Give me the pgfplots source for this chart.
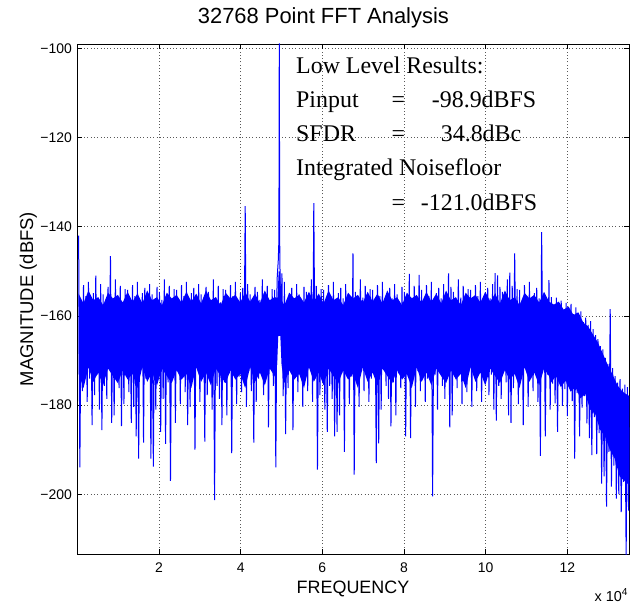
\documentclass[border=0pt]{standalone}
\usepackage{pgfplots}
\pgfplotsset{compat=1.18}
\usepackage{fontspec}
\setmainfont{Liberation Serif}
\newfontfamily\arial{Liberation Sans}
\definecolor{mblue}{rgb}{0,0,1}
\begin{document}
\begin{tikzpicture}
\begin{axis}[
  scale only axis, width=552bp, height=510bp,
  xmin=0, xmax=13.52, ymin=-213.4, ymax=-99.04,
  xtick={2,4,6,8,10,12}, xticklabels={2,4,6,8,10,12},
  ytick={-200,-180,-160,-140,-120,-100},
  yticklabels={−200,−180,−160,−140,−120,−100},
  tick align=inside, xtick pos=both, ytick pos=both,
  major tick length=5bp,
  tick style={black, line width=0.6bp},
  axis line style={black, line width=0.9bp},
  grid=major,
  major grid style={black!65, line width=0.6bp, dash pattern=on 0.8bp off 2.5bp},
  tick label style={font=\arial\fontsize{14}{16}\selectfont, inner sep=0pt},
  xticklabel style={yshift=-9bp},
  yticklabel style={xshift=-5.3bp},
]
% dense core of the noise floor, where the trace covers everything
\addplot[fill=mblue, draw=none] coordinates {
(0.03,-155.0) (0.15,-157.2) (0.27,-154.3) (0.39,-156.5) (0.51,-155.8) (0.63,-157.6) (0.75,-154.8) (0.87,-156.1) (0.99,-155.3) (1.11,-157.0)
(1.23,-154.6) (1.35,-156.8) (1.47,-155.0) (1.59,-157.2) (1.71,-154.3) (1.83,-156.5) (1.95,-155.8) (2.07,-157.6) (2.19,-154.8) (2.31,-156.1)
(2.43,-155.3) (2.55,-157.0) (2.67,-154.6) (2.79,-156.8) (2.91,-155.0) (3.03,-157.2) (3.15,-154.3) (3.27,-156.5) (3.39,-155.8) (3.51,-157.6)
(3.63,-154.8) (3.75,-156.1) (3.87,-155.3) (3.99,-157.0) (4.11,-154.6) (4.23,-156.8) (4.35,-155.0) (4.47,-157.2) (4.59,-154.3) (4.71,-156.5)
(4.83,-155.8) (4.90,-156.0) (4.93,-150.0) (4.96,-150.0) (5.00,-156.5)
(5.07,-157.6) (5.19,-154.8) (5.31,-156.1) (5.43,-155.3) (5.55,-157.0) (5.67,-154.6) (5.79,-156.8) (5.91,-155.0) (6.03,-157.2) (6.15,-154.3)
(6.27,-156.5) (6.39,-155.8) (6.51,-157.6) (6.63,-154.8) (6.75,-156.1) (6.87,-155.3) (6.99,-157.0) (7.11,-154.6) (7.23,-156.8) (7.35,-155.0)
(7.47,-157.2) (7.59,-154.3) (7.71,-156.5) (7.83,-155.8) (7.95,-157.6) (8.07,-154.8) (8.19,-156.1) (8.31,-155.3) (8.43,-157.0) (8.55,-154.6)
(8.67,-156.8) (8.79,-155.0) (8.91,-157.2) (9.03,-154.3) (9.15,-156.5) (9.27,-155.8) (9.39,-157.6) (9.51,-154.8) (9.63,-156.1) (9.75,-155.3)
(9.87,-157.0) (9.99,-154.6) (10.11,-156.8) (10.23,-155.0) (10.35,-157.2) (10.47,-154.3) (10.59,-156.5) (10.71,-155.8) (10.83,-157.6) (10.95,-154.8)
(11.07,-156.1) (11.19,-155.3) (11.31,-157.0) (11.43,-154.6) (11.55,-156.8)
(11.67,-157.5) (11.79,-156.8) (11.91,-158.6) (12.03,-157.9) (12.15,-159.8) (12.27,-159.2) (12.39,-161.5) (12.51,-162.4) (12.63,-164.2) (12.75,-166.0)
(12.87,-168.5) (12.99,-171.0) (13.11,-173.2) (13.23,-175.6) (13.35,-177.0) (13.52,-178.0)
(13.52,-198.0) (13.40,-197.0) (13.28,-196.0) (13.16,-192.0) (13.04,-190.0) (12.92,-187.0) (12.80,-185.5) (12.68,-182.0) (12.56,-181.0) (12.44,-177.5)
(12.32,-178.5) (12.20,-176.0) (12.08,-177.0) (11.96,-174.5) (11.84,-176.0) (11.72,-173.5) (11.60,-175.0)
(11.55,-173.5) (11.43,-171.8) (11.31,-175.6) (11.19,-172.7) (11.07,-174.8) (10.95,-171.5) (10.83,-176.2) (10.71,-173.0) (10.59,-174.3) (10.47,-172.2)
(10.35,-175.1) (10.23,-173.5) (10.11,-171.8) (9.99,-175.6) (9.87,-172.7) (9.75,-174.8) (9.63,-171.5) (9.51,-176.2) (9.39,-173.0) (9.27,-174.3)
(9.15,-172.2) (9.03,-175.1) (8.91,-173.5) (8.79,-171.8) (8.67,-175.6) (8.55,-172.7) (8.43,-174.8) (8.31,-171.5) (8.19,-176.2) (8.07,-173.0)
(7.95,-174.3) (7.83,-172.2) (7.71,-175.1) (7.59,-173.5) (7.47,-171.8) (7.35,-175.6) (7.23,-172.7) (7.11,-174.8) (6.99,-171.5) (6.87,-176.2)
(6.75,-173.0) (6.63,-174.3) (6.51,-172.2) (6.39,-175.1) (6.27,-173.5) (6.15,-171.8) (6.03,-175.6) (5.91,-172.7) (5.79,-174.8) (5.67,-171.5)
(5.55,-176.2) (5.43,-173.0) (5.31,-174.3) (5.19,-172.2) (5.07,-175.1)
(5.00,-171.0) (4.97,-164.5) (4.92,-164.5) (4.89,-171.0)
(4.83,-173.5) (4.71,-171.8) (4.59,-175.6) (4.47,-172.7) (4.35,-174.8) (4.23,-171.5) (4.11,-176.2) (3.99,-173.0) (3.87,-174.3) (3.75,-172.2)
(3.63,-175.1) (3.51,-173.5) (3.39,-171.8) (3.27,-175.6) (3.15,-172.7) (3.03,-174.8) (2.91,-171.5) (2.79,-176.2) (2.67,-173.0) (2.55,-174.3)
(2.43,-172.2) (2.31,-175.1) (2.19,-173.5) (2.07,-171.8) (1.95,-175.6) (1.83,-172.7) (1.71,-174.8) (1.59,-171.5) (1.47,-176.2) (1.35,-173.0)
(1.23,-174.3) (1.11,-172.2) (0.99,-175.1) (0.87,-173.5) (0.75,-171.8) (0.63,-175.6) (0.51,-172.7) (0.39,-174.8) (0.27,-171.5) (0.15,-176.2)
(0.03,-173.0)
} -- cycle;
\addplot[mblue, line width=1.0bp, line join=bevel, no markers] coordinates {
(0.03,-142.0) (0.06,-194.0) (0.09,-156.8) (0.12,-176.9) (0.15,-153.1) (0.18,-170.8) (0.21,-155.6) (0.24,-179.3) (0.27,-152.4) (0.30,-174.1)
(0.33,-157.3) (0.36,-184.5) (0.39,-154.9) (0.42,-177.8) (0.45,-151.0) (0.48,-173.2) (0.51,-156.1) (0.54,-181.0) (0.57,-152.9) (0.60,-185.6)
(0.63,-155.2) (0.66,-175.7) (0.69,-157.8) (0.72,-178.6) (0.75,-153.5) (0.78,-170.2) (0.81,-146.6) (0.84,-184.0) (0.87,-156.4) (0.90,-182.3)
(0.93,-151.8) (0.96,-172.9) (0.99,-155.9) (1.02,-176.2) (1.05,-153.3) (1.08,-184.7) (1.11,-157.0) (1.14,-179.8) (1.17,-154.0) (1.20,-173.6)
(1.23,-154.2) (1.26,-177.1) (1.29,-156.8) (1.32,-184.0) (1.35,-153.1) (1.38,-180.4) (1.41,-155.6) (1.44,-187.0) (1.47,-152.4) (1.50,-192.0)
(1.53,-157.3) (1.56,-170.8) (1.59,-154.9) (1.62,-188.4) (1.65,-153.7) (1.68,-174.1) (1.71,-156.1) (1.74,-169.6) (1.77,-152.9) (1.80,-192.0)
(1.83,-155.2) (1.86,-193.8) (1.89,-157.8) (1.92,-181.0) (1.95,-153.5) (1.98,-171.5) (2.01,-154.6) (2.04,-186.0) (2.07,-156.4) (2.10,-178.6)
(2.13,-151.8) (2.16,-188.7) (2.19,-155.9) (2.22,-174.9) (2.25,-153.3) (2.28,-197.0) (2.31,-157.0) (2.34,-172.9) (2.37,-154.0) (2.40,-184.0)
(2.43,-154.2) (2.46,-169.9) (2.49,-156.8) (2.52,-179.8) (2.55,-153.1) (2.58,-173.6) (2.61,-155.6) (2.64,-177.1) (2.67,-152.4) (2.70,-184.5)
(2.73,-157.3) (2.76,-180.4) (2.79,-154.9) (2.82,-172.4) (2.85,-153.7) (2.88,-190.0) (2.91,-156.1) (2.94,-170.8) (2.97,-152.9) (3.00,-179.3)
(3.03,-155.2) (3.06,-174.1) (3.09,-157.8) (3.12,-188.2) (3.15,-153.5) (3.18,-177.8) (3.21,-154.6) (3.24,-173.2) (3.27,-156.4) (3.30,-181.0)
(3.33,-151.8) (3.36,-201.3) (3.39,-155.9) (3.42,-175.7) (3.45,-153.3) (3.48,-178.6) (3.51,-157.0) (3.54,-184.5) (3.57,-154.0) (3.60,-174.9)
(3.63,-154.2) (3.66,-182.3) (3.69,-156.8) (3.72,-172.9) (3.75,-153.1) (3.78,-190.8) (3.81,-155.6) (3.84,-169.9) (3.87,-152.4) (3.90,-179.8)
(3.93,-157.3) (3.96,-173.6) (3.99,-154.9) (4.02,-177.1) (4.05,-153.7) (4.08,-171.1) (4.11,-135.4) (4.14,-180.4) (4.17,-152.9) (4.20,-172.4)
(4.23,-155.2) (4.26,-176.9) (4.29,-157.8) (4.32,-188.4) (4.35,-153.5) (4.38,-179.3) (4.41,-154.6) (4.44,-174.1) (4.47,-156.4) (4.50,-169.6)
(4.53,-151.8) (4.56,-177.8) (4.59,-155.9) (4.62,-173.2) (4.65,-153.3) (4.68,-185.0) (4.71,-157.0) (4.74,-171.5) (4.77,-154.0) (4.80,-175.7)
(4.83,-154.2) (4.86,-194.0) (4.89,-152.0) (4.92,-147.5) (4.935,-143.2) (4.945,-98.9) (4.955,-143.5) (4.98,-164.5) (5.01,-150.5) (5.04,-178.0)
(5.07,-152.4) (5.10,-186.5) (5.13,-157.3) (5.16,-176.2) (5.19,-154.9) (5.22,-169.9) (5.25,-153.7) (5.28,-185.6) (5.31,-156.1) (5.34,-173.6)
(5.37,-152.9) (5.40,-177.1) (5.43,-155.2) (5.46,-171.1) (5.49,-157.8) (5.52,-180.4) (5.55,-153.5) (5.58,-172.4) (5.61,-154.6) (5.64,-176.9)
(5.67,-156.4) (5.70,-170.8) (5.73,-151.8) (5.76,-179.3) (5.79,-134.7) (5.82,-174.1) (5.85,-153.3) (5.88,-194.5) (5.91,-157.0) (5.94,-177.8)
(5.97,-154.0) (6.00,-173.2) (6.03,-154.2) (6.06,-181.0) (6.09,-156.8) (6.12,-186.0) (6.15,-153.1) (6.18,-175.7) (6.21,-155.6) (6.24,-178.6)
(6.27,-152.4) (6.30,-187.0) (6.33,-157.3) (6.36,-186.0) (6.39,-154.9) (6.42,-182.3) (6.45,-153.7) (6.48,-172.9) (6.51,-156.1) (6.54,-190.5)
(6.57,-152.9) (6.60,-169.9) (6.63,-155.2) (6.66,-179.8) (6.69,-157.8) (6.72,-173.6) (6.75,-146.0) (6.78,-195.6) (6.81,-154.6) (6.84,-171.1)
(6.87,-156.4) (6.90,-180.4) (6.93,-151.8) (6.96,-172.4) (6.99,-155.9) (7.02,-176.9) (7.05,-153.3) (7.08,-170.8) (7.11,-157.0) (7.14,-179.3)
(7.17,-154.0) (7.20,-174.1) (7.23,-154.2) (7.26,-169.6) (7.29,-156.8) (7.32,-193.0) (7.35,-153.1) (7.38,-188.6) (7.41,-155.6) (7.44,-181.0)
(7.47,-152.4) (7.50,-171.5) (7.53,-157.3) (7.56,-175.7) (7.59,-154.9) (7.62,-178.6) (7.65,-153.7) (7.68,-184.8) (7.71,-156.1) (7.74,-174.9)
(7.77,-152.9) (7.80,-182.3) (7.83,-155.2) (7.86,-172.9) (7.89,-157.8) (7.92,-176.2) (7.95,-153.5) (7.98,-169.9) (8.01,-154.6) (8.04,-187.0)
(8.07,-156.4) (8.10,-173.6) (8.13,-150.6) (8.16,-187.4) (8.19,-155.9) (8.22,-171.1) (8.25,-153.3) (8.28,-180.4) (8.31,-157.0) (8.34,-172.4)
(8.37,-150.8) (8.40,-176.9) (8.43,-154.2) (8.46,-170.8) (8.49,-156.8) (8.52,-179.3) (8.55,-153.1) (8.58,-174.1) (8.61,-155.6) (8.64,-169.6)
(8.67,-152.4) (8.70,-200.5) (8.73,-157.3) (8.76,-173.2) (8.79,-154.9) (8.82,-181.0) (8.85,-153.7) (8.88,-171.5) (8.91,-156.1) (8.94,-175.7)
(8.97,-152.9) (9.00,-178.6) (9.03,-155.2) (9.06,-170.2) (9.09,-150.5) (9.12,-185.0) (9.15,-153.5) (9.18,-182.3) (9.21,-154.6) (9.24,-172.9)
(9.27,-156.4) (9.30,-176.2) (9.33,-151.8) (9.36,-169.9) (9.39,-155.9) (9.42,-179.8) (9.45,-153.3) (9.48,-173.6) (9.51,-157.0) (9.54,-177.1)
(9.57,-154.0) (9.60,-171.1) (9.63,-154.2) (9.66,-180.4) (9.69,-156.8) (9.72,-172.4) (9.75,-153.1) (9.78,-176.9) (9.81,-155.6) (9.84,-170.8)
(9.87,-152.4) (9.90,-179.3) (9.93,-157.3) (9.96,-174.1) (9.99,-154.9) (10.02,-169.6) (10.05,-153.7) (10.08,-177.8) (10.11,-156.1) (10.14,-173.2)
(10.17,-152.9) (10.20,-181.0) (10.23,-150.4) (10.26,-183.5) (10.29,-150.9) (10.32,-175.7) (10.35,-153.5) (10.38,-178.6) (10.41,-154.6) (10.44,-170.2)
(10.47,-156.4) (10.50,-174.9) (10.53,-151.8) (10.56,-182.3) (10.59,-150.3) (10.62,-184.0) (10.65,-153.3) (10.68,-176.2) (10.71,-146.0) (10.74,-169.9)
(10.77,-154.0) (10.80,-179.8) (10.83,-154.2) (10.86,-173.6) (10.89,-156.8) (10.92,-184.5) (10.95,-153.1) (10.98,-171.1) (11.01,-155.6) (11.04,-180.4)
(11.07,-152.4) (11.10,-172.4) (11.13,-157.3) (11.16,-176.9) (11.19,-154.9) (11.22,-170.8) (11.25,-153.7) (11.28,-179.3) (11.31,-156.1) (11.34,-191.4)
(11.37,-141.2) (11.40,-169.6) (11.43,-155.2) (11.46,-187.0) (11.49,-157.8) (11.52,-173.2) (11.55,-152.0) (11.58,-181.0)
(11.61,-155.8) (11.64,-175.2) (11.67,-157.4) (11.70,-179.6) (11.73,-155.9) (11.76,-186.0) (11.79,-158.2) (11.82,-173.5) (11.85,-156.6) (11.88,-180.2)
(11.91,-159.0) (11.94,-176.4) (11.97,-157.1) (12.00,-182.5) (12.03,-158.6) (12.06,-174.8) (12.09,-157.3) (12.12,-179.1) (12.15,-159.6) (12.18,-192.0)
(12.21,-158.1) (12.24,-177.3) (12.27,-160.2) (12.30,-187.0) (12.33,-159.0) (12.36,-180.6) (12.39,-161.4) (12.42,-178.0) (12.45,-160.4) (12.48,-184.1)
(12.51,-162.0) (12.54,-187.4) (12.57,-161.2) (12.60,-191.2) (12.63,-163.0) (12.66,-182.7) (12.69,-164.3) (12.72,-191.0) (12.75,-165.2) (12.78,-186.3)
(12.81,-166.8) (12.84,-197.6) (12.87,-167.5) (12.90,-196.0) (12.93,-169.4) (12.96,-202.8) (12.99,-170.8) (13.02,-190.5) (13.05,-158.5) (13.08,-198.3)
(13.11,-171.7) (13.14,-193.6) (13.17,-173.5) (13.20,-201.0) (13.23,-175.0) (13.26,-200.0) (13.29,-174.2) (13.32,-204.0) (13.35,-176.3) (13.38,-197.2)
(13.41,-175.4) (13.44,-214.0) (13.47,-176.0) (13.50,-203.7) (13.52,-185.0)
};
\end{axis}
% titles and labels, placed in bp from the lower-left corner of the axis box
\node[anchor=base, inner sep=0pt, font=\arial\fontsize{22}{26}\selectfont] at (246bp,530.5bp) {32768 Point FFT Analysis};
\node[anchor=base, inner sep=0pt, font=\arial\fontsize{18}{22}\selectfont] at (275.6bp,-39bp) {FREQUENCY};
\node[anchor=base, rotate=90, inner sep=0pt, font=\arial\fontsize{18.5}{22}\selectfont] at (-44.2bp,255bp) {MAGNITUDE (dBFS)};
\node[anchor=base west, inner sep=0pt, font=\arial\fontsize{14.5}{16}\selectfont] at (517bp,-47bp) {x 10\textsuperscript{4}};
% results text
\begin{scope}[every node/.style={inner sep=0pt, font=\fontsize{24}{28}\selectfont}]
\node[anchor=base west] at (218.6bp,480.7bp) {Low Level Results:};
\node[anchor=base west] at (218.6bp,446.5bp) {Pinput};
\node[anchor=base] at (320.9bp,446.5bp) {=};
\node[anchor=base west] at (354.3bp,446.5bp) {-98.9dBFS};
\node[anchor=base west] at (218.6bp,412.3bp) {SFDR};
\node[anchor=base] at (320.9bp,412.3bp) {=};
\node[anchor=base west] at (363.3bp,412.3bp) {34.8dBc};
\node[anchor=base west] at (218.6bp,378.1bp) {Integrated Noisefloor};
\node[anchor=base] at (320.9bp,343.9bp) {=};
\node[anchor=base west] at (343.3bp,343.9bp) {-121.0dBFS};
\end{scope}
\path (-77.4bp,-52bp) rectangle (563.6bp,554bp);
\end{tikzpicture}
\end{document}
